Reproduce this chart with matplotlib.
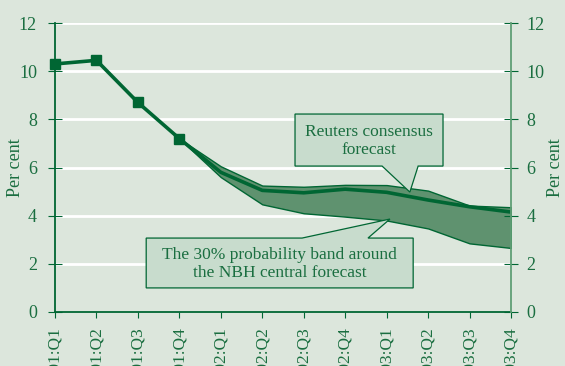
import numpy as np
import matplotlib.pyplot as plt
from matplotlib.patches import Polygon

# Quarterly labels
quarters = ['2001:Q1', '2001:Q2', '2001:Q3', '2001:Q4',
            '2002:Q1', '2002:Q2', '2002:Q3', '2002:Q4',
            '2003:Q1', '2003:Q2', '2003:Q3', '2003:Q4']

# Actual values (per cent)
actual = [10.3, 10.45, 8.7, 7.2]

# Consensus forecast from 2001:Q4 onward
consensus = [7.2, 5.8, 5.05, 4.95, 5.1, 4.97, 4.65, 4.37, 4.15]

# Probability band limits from 2001:Q4 onward
band_upper = [7.2, 6.05, 5.25, 5.2, 5.28, 5.27, 5.04, 4.42, 4.35]
band_lower = [7.2, 5.6, 4.47, 4.1, 3.96, 3.8, 3.47, 2.85, 2.66]

dark = '#006633'
text_col = '#1a6e40'
bg = '#dce6dc'
band_col = '#5f926f'
box_col = '#c8dccd'

plt.rcParams['font.family'] = ['Liberation Serif', 'DejaVu Serif']

fig = plt.figure(figsize=(5.65, 3.66), dpi=100, facecolor=bg)
ax = fig.add_axes([55 / 565, (366 - 312) / 366, 456 / 565, 289 / 366])
ax.set_facecolor(bg)

x_all = np.arange(len(quarters))
x_act = x_all[:len(actual)]
x_fc = x_all[len(actual) - 1:]

# grid
for yv in range(2, 13, 2):
    ax.axhline(yv, color='white', lw=2, zorder=1)

# band
ax.fill_between(x_fc, band_lower, band_upper, facecolor=band_col,
                edgecolor=dark, lw=1, zorder=2)

# lines
ax.plot(x_fc, consensus, color=dark, lw=2.6, zorder=3, solid_capstyle='butt')
ax.plot(x_act, actual, color=dark, lw=2.6, marker='s', ms=6.5, zorder=4,
        clip_on=False)

# callouts
reuters = Polygon([(5.79, 8.22), (9.36, 8.22), (9.36, 6.06), (8.76, 6.06),
                   (8.56, 4.98), (7.89, 6.06), (5.79, 6.06)],
                  closed=True, facecolor=box_col, edgecolor=dark, lw=0.9, zorder=5)
ax.add_patch(reuters)
ax.text(7.575, 7.1, 'Reuters consensus\nforecast', ha='center', va='center',
        color=text_col, fontsize=12.5, linespacing=1.2, zorder=6)

nbh = Polygon([(2.20, 3.07), (5.96, 3.07), (8.08, 3.86), (7.55, 3.07),
               (8.64, 3.07), (8.64, 1.0), (2.20, 1.0)],
              closed=True, facecolor=box_col, edgecolor=dark, lw=0.9, zorder=5)
ax.add_patch(nbh)
ax.text(5.42, 2.0, 'The 30% probability band around\nthe NBH central forecast',
        ha='center', va='center', color=text_col, fontsize=12.5,
        linespacing=1.2, zorder=6)

# axes
ax.set_xlim(0, 11)
ax.set_ylim(0, 12)
ax.set_xticks(x_all)
ax.set_xticklabels(quarters, rotation=90, va='top', ha='center')
ax.set_yticks(range(0, 13, 2))
ax.tick_params(axis='x', direction='out', length=4, color=dark, labelcolor=text_col,
               labelsize=12.5, pad=7)
ax.tick_params(axis='y', direction='inout', length=10, color=dark, labelcolor=text_col,
               labelsize=13, pad=8)
ax.set_ylabel('Per cent', color=text_col, fontsize=13, labelpad=-4)

for s in ['top', 'right']:
    ax.spines[s].set_visible(False)
ax.spines['left'].set_color(dark)
ax.spines['bottom'].set_color(dark)
ax.spines['left'].set_linewidth(1.3)
ax.spines['bottom'].set_linewidth(1.3)

ax2 = ax.twinx()
ax2.set_ylim(0, 12)
ax2.set_yticks(range(0, 13, 2))
ax2.tick_params(axis='y', direction='inout', length=10, color=dark, labelcolor=text_col,
                labelsize=13, pad=6)
ax2.set_ylabel('Per cent', color=text_col, fontsize=13, labelpad=2)
for s in ['top', 'left', 'bottom']:
    ax2.spines[s].set_visible(False)
ax2.spines['right'].set_color('#5f9f75')
ax2.spines['right'].set_linewidth(1.3)

fig.savefig('out.png', dpi=100, facecolor=bg)
